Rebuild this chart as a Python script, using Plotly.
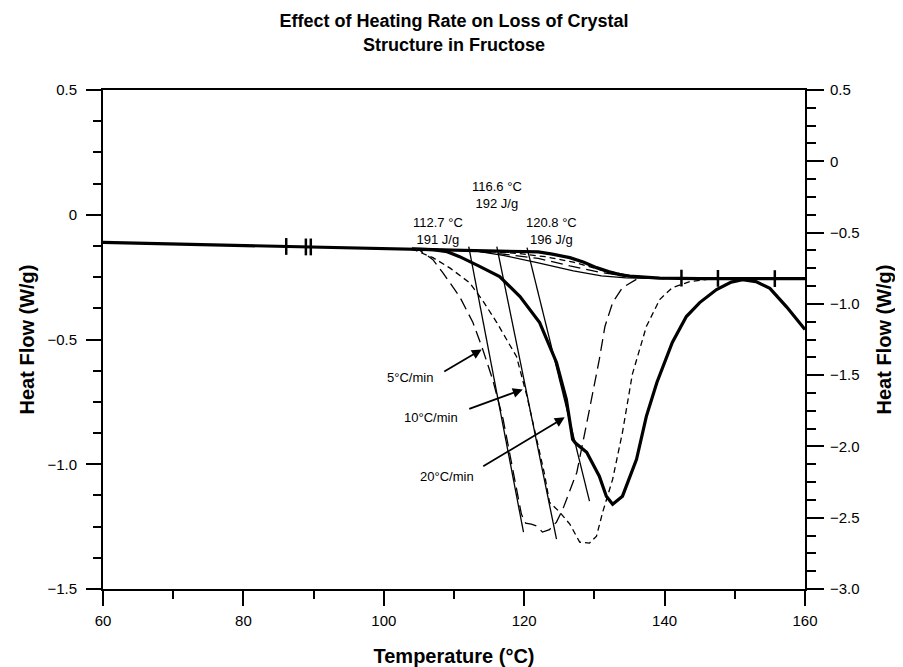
import plotly.graph_objects as go

# ---------------- data (°C, W/g) ----------------
upper_thick_x = [60, 70, 80, 90, 100, 105, 110, 115, 120, 122, 124, 126.5, 128.5, 130.3, 132, 133.6, 135, 137, 139.3, 145, 160]
upper_thick_y = [-0.111, -0.117, -0.123, -0.129, -0.134, -0.137, -0.139, -0.142, -0.145, -0.149, -0.158, -0.172, -0.19, -0.212, -0.228, -0.24, -0.246, -0.251, -0.254, -0.256, -0.256]

upper_solid_x = [104, 110, 113, 117, 122, 127, 131, 134.5, 140]
upper_solid_y = [-0.137, -0.140, -0.145, -0.163, -0.193, -0.225, -0.245, -0.253, -0.256]

upper_long_x = [106, 112, 117, 122, 126.5, 131, 135, 138]
upper_long_y = [-0.138, -0.142, -0.158, -0.175, -0.205, -0.232, -0.248, -0.255]

upper_short_x = [108, 114, 119, 123, 127, 131, 135, 138.5]
upper_short_y = [-0.139, -0.146, -0.155, -0.168, -0.19, -0.222, -0.243, -0.254]

rate5_x = [104, 105.1, 107, 108.4, 110.8, 112.7, 114.1, 115.5, 117, 118.5, 119.6, 120.2, 121.0, 121.8, 122.6, 123.6, 124.6, 125.5, 127.5, 129.3, 130.7, 131.5, 132.6, 134.0, 136.4, 140]
rate5_y = [-0.137, -0.142, -0.18, -0.232, -0.328, -0.432, -0.54, -0.66, -0.82, -1.04, -1.20, -1.236, -1.24, -1.248, -1.272, -1.262, -1.232, -1.18, -1.032, -0.78, -0.58, -0.448, -0.352, -0.292, -0.252, -0.256]

rate10_x = [104, 107, 109.5, 112.2, 114, 116.1, 117.9, 118.9, 120.4, 121.8, 122.9, 123.6, 125.0, 126.5, 127.9, 129.3, 130.3, 131.2, 132.6, 134.0, 135.4, 137.4, 139.3, 141.1, 143.6, 147]
rate10_y = [-0.137, -0.172, -0.215, -0.272, -0.34, -0.432, -0.52, -0.568, -0.728, -0.9, -1.04, -1.152, -1.19, -1.24, -1.312, -1.316, -1.288, -1.19, -1.06, -0.872, -0.64, -0.448, -0.34, -0.292, -0.268, -0.256]

rate20_x = [104, 107, 109, 110.8, 113.5, 116.5, 119.4, 122.2, 124.6, 126.0, 126.9, 127.3, 128.9, 130.7, 131.7, 132.6, 134.0, 136.0, 137.4, 138.9, 141.1, 143.1, 145.0, 147.4, 149.5, 151.1, 153, 155, 157.4, 160]
rate20_y = [-0.137, -0.14, -0.148, -0.168, -0.205, -0.248, -0.328, -0.432, -0.592, -0.74, -0.90, -0.915, -0.952, -1.048, -1.128, -1.16, -1.128, -0.98, -0.808, -0.672, -0.512, -0.408, -0.352, -0.30, -0.27, -0.26, -0.268, -0.295, -0.37, -0.46]

# onset tangent lines (start, end)
tan5_x = [112.1, 119.9]
tan5_y = [-0.128, -1.272]
tan10_x = [116.1, 124.6]
tan10_y = [-0.128, -1.30]
tan20_x = [120.4, 129.3]
tan20_y = [-0.132, -1.148]

# integration limit marks
limit_x = [86.1, 88.9, 89.6, 142.4, 147.6, 155.7]
limit_y = [-0.127, -0.129, -0.129, -0.254, -0.255, -0.256]

# onset labels
onset_x = [107.7, 116.1, 123.9]
onset_y = [-0.064, 0.080, -0.064]
onset_text = ["112.7 °C<br>191 J/g", "116.6 °C<br>192 J/g", "120.8 °C<br>196 J/g"]

# rate labels and arrows
rate_labels = ["5°C/min", "10°C/min", "20°C/min"]
rate_label_x = [107.3, 110.8, 113.2]
rate_label_y = [-0.652, -0.812, -1.048]
arrow_head_x = [113.95, 119.79, 125.77]
arrow_head_y = [-0.54, -0.70, -0.812]
arrow_tail_x = [108.4, 111.96, 113.95]
arrow_tail_y = [-0.632, -0.78, -1.012]

left_ticks = [0.5, 0, -0.5, -1.0, -1.5]
left_ticktext = ["0.5", "0", "\u22120.5", "\u22121.0", "\u22121.5"]
right_ticks = [0.5, 0, -0.5, -1.0, -1.5, -2.0, -2.5, -3.0]
right_ticktext = ["0.5", "0", "\u22120.5", "\u22121.0", "\u22121.5", "\u22122.0", "\u22122.5", "\u22123.0"]
x_ticks = [60, 80, 100, 120, 140, 160]

FONT = "Liberation Sans, Arial, Helvetica, sans-serif"
THICK = 3.2
THIN = 1.3

fig = go.Figure()

def line(x, y, width, dash="solid"):
    fig.add_trace(go.Scatter(x=x, y=y, mode="lines",
                             line=dict(color="black", width=width, dash=dash),
                             showlegend=False, hoverinfo="skip"))

line(upper_solid_x, upper_solid_y, THIN)
line(upper_long_x, upper_long_y, THIN, "12px,6px")
line(upper_short_x, upper_short_y, THIN, "6px,4px")
line(rate5_x, rate5_y, THIN, "12px,6px")
line(rate10_x, rate10_y, THIN, "6px,4px")
line(rate20_x, rate20_y, THICK)
line(upper_thick_x, upper_thick_y, THICK)
line(tan5_x, tan5_y, THIN)
line(tan10_x, tan10_y, THIN)
line(tan20_x, tan20_y, THIN)

fig.add_trace(go.Scatter(x=limit_x, y=limit_y, mode="markers",
                         marker=dict(symbol="line-ns", size=12, color="black",
                                     line=dict(color="black", width=2.5)),
                         showlegend=False, hoverinfo="skip"))

# invisible trace so the right axis is drawn
fig.add_trace(go.Scatter(x=[60], y=[-3.0], yaxis="y2", mode="markers",
                         marker=dict(opacity=0), showlegend=False, hoverinfo="skip"))

for tx, ty, tt in zip(onset_x, onset_y, onset_text):
    fig.add_annotation(x=tx, y=ty, text=tt, showarrow=False, xref="x", yref="y",
                       font=dict(size=13, color="black", family=FONT), align="center")

for lx, ly, lt in zip(rate_label_x, rate_label_y, rate_labels):
    fig.add_annotation(x=lx, y=ly, text=lt, showarrow=False, xref="x", yref="y",
                       xanchor="right", font=dict(size=13, color="black", family=FONT))

for hx, hy, tx, ty in zip(arrow_head_x, arrow_head_y, arrow_tail_x, arrow_tail_y):
    fig.add_annotation(x=hx, y=hy, ax=tx, ay=ty, xref="x", yref="y", axref="x", ayref="y",
                       text="", showarrow=True, arrowhead=2, arrowsize=1.1,
                       arrowwidth=1.8, arrowcolor="black")

axis_common = dict(showgrid=False, zeroline=False, showline=True, linecolor="black",
                   linewidth=2, ticks="outside", tickcolor="black", tickwidth=1.5,
                   automargin=False,
                   tickfont=dict(size=15, color="black", family=FONT))

fig.update_layout(
    width=895, height=659,
    margin=dict(l=95, r=98, t=82, b=78),
    paper_bgcolor="white", plot_bgcolor="white",
    font=dict(family=FONT, color="black"),
    title=dict(text="<b>Effect of Heating Rate on Loss of Crystal<br>Structure in Fructose</b>",
               x=0.5, xanchor="center", y=0.971, yanchor="top", xref="paper",
               font=dict(size=18, color="black", family=FONT)),
    xaxis=dict(range=[60, 160], tickvals=x_ticks, ticktext=[str(v) for v in x_ticks],
               ticklen=15, mirror=True, ticklabelstandoff=2,
               minor=dict(dtick=10, tick0=60, ticklen=8, ticks="outside", tickcolor="black", tickwidth=1.5),
               title=dict(text="<b>Temperature (°C)</b>", standoff=22,
                          font=dict(size=20, color="black", family=FONT)),
               **axis_common),
    yaxis=dict(range=[-1.5, 0.5], tickvals=left_ticks, ticktext=left_ticktext,
               ticklen=15, ticklabelstandoff=6,
               minor=dict(dtick=0.125, tick0=0, ticklen=8, ticks="outside", tickcolor="black", tickwidth=1.5),
               title=dict(text="<b>Heat Flow (W/g)</b>", standoff=7,
                          font=dict(size=20, color="black", family=FONT)),
               **axis_common),
    yaxis2=dict(range=[-3.0, 0.5], overlaying="y", side="right",
                tickvals=right_ticks, ticktext=right_ticktext, ticklen=17, ticklabelstandoff=3,
                minor=dict(dtick=0.125, tick0=0, ticklen=9, ticks="outside", tickcolor="black", tickwidth=1.5),
                title=dict(text="<b>Heat Flow (W/g)</b>", standoff=18,
                           font=dict(size=20, color="black", family=FONT)),
                **axis_common),
)

fig.write_html("out.html")
